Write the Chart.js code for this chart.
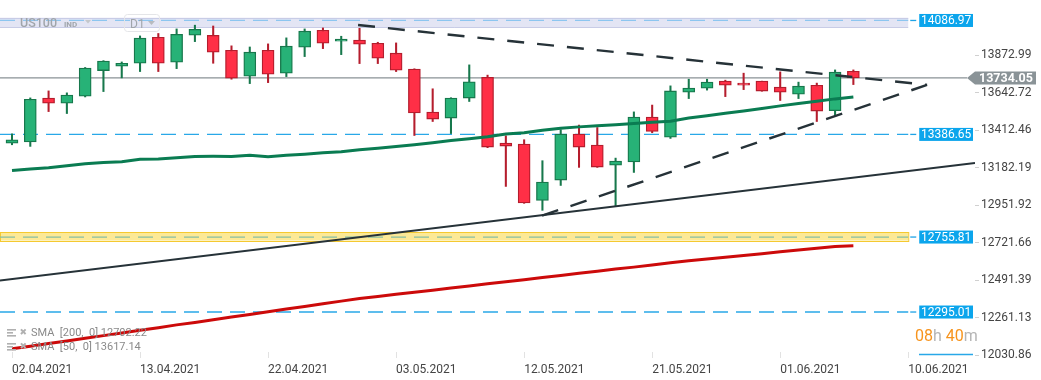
<!DOCTYPE html>
<html><head><meta charset="utf-8">
<script src="https://cdn.jsdelivr.net/npm/chart.js@4.4.1/dist/chart.umd.min.js"></script>
<style>html,body{margin:0;padding:0;background:#fff;}#wrap{position:relative;width:1041px;height:380px;}</style>
</head><body><div id="wrap"><canvas id="c"></canvas></div>
<script>
const dates = ['02.04','05.04','06.04','07.04','08.04','09.04','12.04','13.04','14.04','15.04','16.04','19.04','20.04','21.04','22.04','23.04','26.04','27.04','28.04','29.04','30.04','03.05','04.05','05.05','06.05','07.05','10.05','11.05','12.05','13.05','14.05','17.05','18.05','19.05','20.05','21.05','24.05','25.05','26.05','27.05','28.05','31.05','01.06','02.06','03.06','04.06','07.06'];
const open  = [13333,13340,13610,13579,13622,13779,13806,13824,13984,13830,13996,13996,13904,13745,13904,13763,13923,14027,13959,13966,13947,13886,13788,13524,13487,13610,13738,13333,13327,12981,13106,13389,13321,13198,13217,13493,13370,13646,13671,13714,13702,13714,13677,13634,13689,13533,13775];
const high  = [13390,13611,13654,13642,13798,13840,13832,13992,14007,14035,14058,14053,13931,13924,13943,13980,14035,14041,13990,14039,13953,13949,13790,13667,13612,13814,13751,13378,13354,13225,13415,13444,13429,13241,13525,13567,13685,13726,13726,13720,13763,13714,13771,13708,13702,13783,13783];
const low   = [13323,13313,13527,13515,13617,13650,13734,13773,13773,13791,13957,13824,13726,13699,13705,13742,13865,13914,13877,13822,13822,13773,13380,13466,13392,13589,13305,13067,12963,12920,13073,13184,13184,12949,13153,13397,13362,13607,13659,13619,13662,13652,13595,13607,13466,13497,13693];
const close = [13354,13603,13579,13628,13794,13837,13824,13978,13824,14002,14033,13892,13732,13892,13757,13929,14021,13947,13972,13941,13855,13781,13518,13481,13610,13710,13309,13315,12965,13094,13389,13309,13186,13223,13493,13405,13654,13671,13708,13689,13689,13653,13646,13683,13530,13769,13734.05];
const sma50  = [13165,13174,13182,13194,13206,13214,13219,13234,13235,13243,13251,13252,13251,13258,13249,13258,13265,13274,13280,13292,13301,13312,13323,13335,13349,13360,13372,13389,13397,13412,13424,13433,13440,13446,13453,13461,13468,13487,13502,13517,13531,13546,13562,13576,13590,13605,13617.14];
const sma200 = [12069,12085,12101,12117,12134,12150,12166,12183,12199,12216,12231,12248,12265,12280,12297,12313,12329,12346,12362,12378,12391,12404,12417,12429,12442,12455,12469,12481,12494,12507,12520,12533,12545,12559,12571,12584,12598,12610,12621,12632,12642,12653,12665,12676,12687,12698,12702.22];
const xTickIndex  = [0,7,14,21,28,35,42,49];
const xTickLabels = ['02.04.2021','13.04.2021','22.04.2021','03.05.2021','12.05.2021','21.05.2021','01.06.2021','10.06.2021'];
const yTickLabels = ['12030.86','12261.13','12491.39','12721.66','12951.92','13182.19','13412.46','13642.72','13872.99'];
const levels = [14086.97, 13386.65, 12755.81, 12295.01];
const levelLabels = ['14086.97','13386.65','12755.81','12295.01'];
const topZone = [14045, 14104];
const yellowZone = [12734, 12787];
const lastPrice = 13734.05;
const lastPriceLabel = '13734.05';
const trendUpper   = [[18.92,14059],[50.03,13691]];
const trendLower   = [[28.98,12887],[50.03,13691]];
const trendSupport = [[-0.66,12488],[52.65,13211]];
const levelEndIndex = 49;
const xRange = [-0.656, 52.65];
const yRange = [12030.86, 14212.78];
const legendLines = ['SMA  [200,  0] 12702.22','SMA  [50,  0] 13617.14'];
const symbolText = 'US100', symbolType = 'IND', intervalText = 'D1';
const countdown = [['08','#f7941d'],['h','#b5b5b5'],[' 40','#f7941d'],['m','#b5b5b5']];

const up = open.map((o,i)=>close[i]>=o);
const bodyData = open.map((o,i)=>({x:i, y:[Math.min(o,close[i]), Math.max(o,close[i])]}));
const wickData = open.map((o,i)=>({x:i, y:[low[i], high[i]]}));
const pts = a => a.map(p=>({x:p[0], y:p[1]}));

const overlay = {
  id:'overlay',
  beforeDatasetsDraw(chart){
    const {ctx, chartArea:a, scales:{x,y}} = chart;
    const xe = x.getPixelForValue(levelEndIndex);
    ctx.save();
    let z1=y.getPixelForValue(topZone[1]), z0=y.getPixelForValue(topZone[0]);
    ctx.fillStyle='#e3e5f4'; ctx.fillRect(a.left, z1, xe-a.left, z0-z1);
    ctx.strokeStyle='#c8cce6'; ctx.lineWidth=1;
    ctx.beginPath(); ctx.moveTo(a.left,Math.round(z1)+0.5); ctx.lineTo(xe,Math.round(z1)+0.5);
    ctx.moveTo(a.left,Math.round(z0)+0.5); ctx.lineTo(xe,Math.round(z0)+0.5); ctx.stroke();
    z1=y.getPixelForValue(yellowZone[1]); z0=y.getPixelForValue(yellowZone[0]);
    ctx.fillStyle='#fce996'; ctx.fillRect(a.left, z1, xe-a.left, z0-z1);
    ctx.strokeStyle='#f5c930'; ctx.strokeRect(a.left+0.5, Math.round(z1)+0.5, xe-a.left, Math.round(z0-z1));
    ctx.setLineDash([15,8]); ctx.lineWidth=1.3;
    const cols=['#8cc6f0','#29a8e8','#86bea2','#29a8e8'];
    levels.forEach((v,i)=>{
      const py=y.getPixelForValue(v);
      ctx.strokeStyle=cols[i];
      ctx.beginPath(); ctx.moveTo(a.left,py); ctx.lineTo(xe,py); ctx.stroke();
    });
    ctx.setLineDash([]);
    const pp=y.getPixelForValue(lastPrice);
    ctx.strokeStyle='#8a9296'; ctx.lineWidth=1.4;
    ctx.beginPath(); ctx.moveTo(a.left,pp); ctx.lineTo(a.right-8,pp); ctx.stroke();
    ctx.strokeStyle='#e2e2e2'; ctx.lineWidth=1;
    xTickIndex.forEach(v=>{const px=Math.round(x.getPixelForValue(v))+0.5; ctx.beginPath(); ctx.moveTo(px,a.bottom-3); ctx.lineTo(px,a.bottom+3); ctx.stroke();});
    ctx.restore();
  },
  afterDraw(chart){
    const {ctx, chartArea:a, scales:{x,y}} = chart;
    const xe = x.getPixelForValue(levelEndIndex);
    ctx.save();
    ctx.font='12px Roboto'; ctx.textAlign='center'; ctx.textBaseline='middle';
    levels.forEach((v,i)=>{
      const py=y.getPixelForValue(v);
      ctx.strokeStyle='#1fa3e6'; ctx.lineWidth=1.3;
      ctx.beginPath(); ctx.moveTo(xe+2,py); ctx.lineTo(xe+8,py); ctx.stroke();
      ctx.fillStyle='#0ba5ec';
      ctx.fillRect(xe+11, py-6.5, a.right-2-(xe+11), 13);
      ctx.fillStyle='#ffffff';
      ctx.fillText(levelLabels[i], (xe+11+a.right-2)/2, py+0.5);
    });
    const pp=y.getPixelForValue(lastPrice);
    ctx.fillStyle='#8a9397';
    ctx.beginPath(); ctx.moveTo(a.right-8,pp); ctx.lineTo(a.right,pp-6.5); ctx.lineTo(1036,pp-6.5); ctx.lineTo(1036,pp+6.5); ctx.lineTo(a.right,pp+6.5); ctx.closePath(); ctx.fill();
    ctx.fillStyle='#fff'; ctx.font='bold 12.5px Roboto'; ctx.textAlign='left';
    ctx.fillText(lastPriceLabel, a.right+4, pp+0.5);
    ctx.textBaseline='alphabetic';
    ctx.fillStyle='#a0a5aa'; ctx.font='500 12.5px Roboto';
    ctx.fillText(symbolText, 20, 27);
    ctx.font='bold 8px Roboto'; ctx.fillText(symbolType, 64, 27);
    ctx.fillStyle='#c4c7cb';
    ctx.beginPath(); ctx.moveTo(85,20); ctx.lineTo(91,20); ctx.lineTo(88,23.5); ctx.closePath(); ctx.fill();
    ctx.strokeStyle='#e4e5e8'; ctx.lineWidth=1;
    ctx.beginPath(); ctx.roundRect(124.5,14.5,35,17,3); ctx.stroke();
    ctx.fillStyle='#a0a5aa'; ctx.font='12px Roboto'; ctx.fillText(intervalText, 130, 28);
    ctx.fillStyle='#b8bbbf';
    ctx.beginPath(); ctx.moveTo(148,21); ctx.lineTo(155,21); ctx.lineTo(151.5,25); ctx.closePath(); ctx.fill();
    legendLines.forEach((t,i)=>{
      const cy = 333 + i*14;
      ctx.fillStyle='#b0b0b0';
      ctx.fillRect(7,cy-4,9,1.6); ctx.fillRect(7,cy-1,6,1.6); ctx.fillRect(7,cy+2,9,1.6);
      ctx.font='9px DejaVu Sans'; ctx.textBaseline='middle'; ctx.fillText('\u2716', 19.5, cy);
      ctx.fillStyle='#8a8a8a'; ctx.font='11px Roboto';
      ctx.fillText(t, 31, cy+0.5);
    });
    ctx.font='16px Roboto'; ctx.textBaseline='alphabetic';
    let cx=915;
    countdown.forEach(([t,c])=>{ctx.fillStyle=c; ctx.fillText(t,cx,341); cx+=ctx.measureText(t).width;});
    ctx.strokeStyle='#29a8e8'; ctx.lineWidth=1.5;
    ctx.beginPath(); ctx.moveTo(919,354.5); ctx.lineTo(973,354.5); ctx.stroke();
    ctx.restore();
  }
};

new Chart(document.getElementById('c'), {
  type:'bar',
  data:{datasets:[
    {type:'bar', data:wickData, backgroundColor:up.map(u=>u?'#17784c':'#b51d2d'), borderWidth:0, barThickness:1.4, grouped:false, order:4},
    {type:'bar', data:bodyData, backgroundColor:up.map(u=>u?'#27b277':'#ff2f46'), borderColor:up.map(u=>u?'#17784c':'#b51d2d'), borderWidth:1.3, borderSkipped:false, barThickness:12, grouped:false, order:3},
    {type:'line', data:sma200.map((v,i)=>({x:i,y:v})), borderColor:'#cc0a0a', borderWidth:3, pointRadius:0, tension:0, order:2},
    {type:'line', data:sma50.map((v,i)=>({x:i,y:v})), borderColor:'#0a7c52', borderWidth:3, pointRadius:0, tension:0, order:2},
    {type:'line', data:pts(trendSupport), borderColor:'#263238', borderWidth:2, pointRadius:0, order:1},
    {type:'line', data:pts(trendUpper), borderColor:'#263238', borderWidth:2.4, borderDash:[17,13], pointRadius:0, order:1},
    {type:'line', data:pts(trendLower), borderColor:'#263238', borderWidth:2.4, borderDash:[17,13], pointRadius:0, order:1}
  ]},
  options:{
    responsive:true, maintainAspectRatio:false, animation:false, events:[],
    layout:{padding:0},
    plugins:{legend:{display:false}, tooltip:{enabled:false}},
    scales:{
      x:{type:'linear', min:xRange[0], max:xRange[1], offset:false,
        afterFit(s){s.height=25; s.paddingLeft=0; s.paddingRight=0;},
        afterBuildTicks(s){s.ticks=xTickIndex.map(v=>({value:v}));},
        ticks:{autoSkip:false, maxRotation:0, align:'start', padding:0, color:'#444', font:{family:'Roboto', size:12}, callback:(v,i)=>xTickLabels[i]},
        grid:{display:false, offset:false}, border:{display:false}},
      y:{position:'right', min:yRange[0], max:yRange[1],
        afterFit(s){s.width=66; s.paddingTop=0; s.paddingBottom=0;},
        afterBuildTicks(s){s.ticks=yTickLabels.map(t=>({value:parseFloat(t)}));},
        ticks:{autoSkip:false, padding:2, color:'#444', font:{family:'Roboto', size:12}, callback:(v,i)=>yTickLabels[i]},
        grid:{drawOnChartArea:false, drawTicks:true, tickLength:4, color:'#d0d0d0'}, border:{display:false}}
    }
  },
  plugins:[overlay]
});
</script></body></html>
